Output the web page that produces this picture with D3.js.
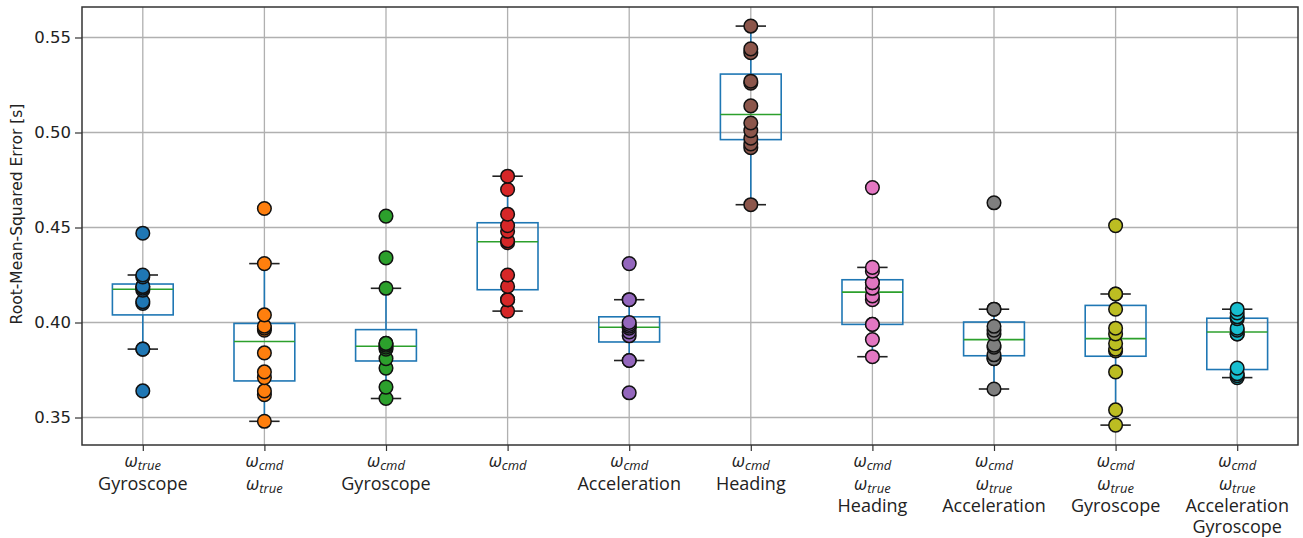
<!DOCTYPE html>
<html>
<head>
<meta charset="utf-8">
<script src="https://cdn.jsdelivr.net/npm/d3@7"></script>
<style>
  html, body { margin: 0; padding: 0; background: #fff; }
  svg { display: block; }
</style>
</head>
<body>
<svg id="chart" width="1303" height="538"></svg>
<script>
// ---- data ----
const categories = [1, 2, 3, 4, 5, 6, 7, 8, 9, 10];
const tickLabels = [
  ["ω_true", "Gyroscope"],
  ["ω_cmd", "ω_true"],
  ["ω_cmd", "Gyroscope"],
  ["ω_cmd"],
  ["ω_cmd", "Acceleration"],
  ["ω_cmd", "Heading"],
  ["ω_cmd", "ω_true", "Heading"],
  ["ω_cmd", "ω_true", "Acceleration"],
  ["ω_cmd", "ω_true", "Gyroscope"],
  ["ω_cmd", "ω_true", "Acceleration", "Gyroscope"]
];
const series1 = [0.364, 0.386, 0.386, 0.410, 0.411, 0.417, 0.418, 0.419, 0.419, 0.424, 0.425, 0.447];
const series2 = [0.348, 0.362, 0.364, 0.371, 0.374, 0.384, 0.396, 0.397, 0.398, 0.404, 0.431, 0.460];
const series3 = [0.360, 0.366, 0.376, 0.381, 0.386, 0.387, 0.388, 0.389, 0.389, 0.418, 0.434, 0.456];
const series4 = [0.406, 0.412, 0.412, 0.419, 0.425, 0.442, 0.443, 0.448, 0.451, 0.457, 0.470, 0.477];
const series5 = [0.363, 0.380, 0.380, 0.393, 0.395, 0.397, 0.398, 0.399, 0.400, 0.412, 0.412, 0.431];
const series6 = [0.462, 0.492, 0.494, 0.497, 0.501, 0.505, 0.514, 0.526, 0.527, 0.542, 0.544, 0.556];
const series7 = [0.382, 0.391, 0.399, 0.399, 0.412, 0.414, 0.418, 0.421, 0.421, 0.427, 0.429, 0.471];
const series8 = [0.365, 0.381, 0.381, 0.383, 0.387, 0.388, 0.394, 0.396, 0.398, 0.407, 0.407, 0.463];
const series9 = [0.346, 0.354, 0.374, 0.385, 0.386, 0.389, 0.394, 0.397, 0.407, 0.415, 0.415, 0.451];
const series10 = [0.371, 0.372, 0.373, 0.376, 0.394, 0.394, 0.396, 0.397, 0.402, 0.403, 0.405, 0.407];
const allSeries = [series1, series2, series3, series4, series5, series6, series7, series8, series9, series10];
const yTicks = [0.35, 0.40, 0.45, 0.50, 0.55];
const yLabel = "Root-Mean-Squared Error [s]";
const colors = d3.schemeCategory10;

// ---- layout ----
const svg = d3.select("#chart");
const L = 82, R = 1298, T = 7, B = 445;
const x = d3.scaleLinear().domain([0.5, 10.5]).range([L, R]);
const y = d3.scaleLinear().domain([0.33553, 0.56605]).range([B, T]);

// grid
const grid = svg.append("g");
grid.selectAll("line.h").data(yTicks).join("line")
  .attr("x1", L).attr("x2", R)
  .attr("y1", d => y(d)).attr("y2", d => y(d))
  .attr("stroke", "#b0b0b0").attr("stroke-width", 1.3);
grid.selectAll("line.v").data(categories).join("line")
  .attr("y1", T).attr("y2", B)
  .attr("x1", d => x(d)).attr("x2", d => x(d))
  .attr("stroke", "#b0b0b0").attr("stroke-width", 1.3);

// boxplots
function stats(arr) {
  const s = arr.slice().sort(d3.ascending);
  const q1 = d3.quantile(s, 0.25), med = d3.quantile(s, 0.5), q3 = d3.quantile(s, 0.75);
  const iqr = q3 - q1;
  const lo = d3.min(s.filter(v => v >= q1 - 1.5 * iqr));
  const hi = d3.max(s.filter(v => v <= q3 + 1.5 * iqr));
  return { q1, med, q3, lo, hi };
}
const boxW = 0.5, capW = 0.25;
const boxes = svg.append("g");
allSeries.forEach((vals, i) => {
  const c = categories[i];
  const st = stats(vals);
  const g = boxes.append("g");
  g.append("line").attr("x1", x(c)).attr("x2", x(c)).attr("y1", y(st.q1)).attr("y2", y(st.lo))
    .attr("stroke", "#1f77b4").attr("stroke-width", 1.6);
  g.append("line").attr("x1", x(c)).attr("x2", x(c)).attr("y1", y(st.q3)).attr("y2", y(st.hi))
    .attr("stroke", "#1f77b4").attr("stroke-width", 1.6);
  [st.lo, st.hi].forEach(v => {
    g.append("line").attr("x1", x(c - capW / 2)).attr("x2", x(c + capW / 2))
      .attr("y1", y(v)).attr("y2", y(v)).attr("stroke", "#222").attr("stroke-width", 1.6);
  });
  g.append("rect").attr("x", x(c - boxW / 2)).attr("width", x(c + boxW / 2) - x(c - boxW / 2))
    .attr("y", y(st.q3)).attr("height", y(st.q1) - y(st.q3))
    .attr("fill", "none").attr("stroke", "#1f77b4").attr("stroke-width", 1.6);
  g.append("line").attr("x1", x(c - boxW / 2)).attr("x2", x(c + boxW / 2))
    .attr("y1", y(st.med)).attr("y2", y(st.med)).attr("stroke", "#2ca02c").attr("stroke-width", 1.6);
});

// points
const pts = svg.append("g");
allSeries.forEach((vals, i) => {
  pts.selectAll(null).data(vals).join("circle")
    .attr("cx", x(categories[i])).attr("cy", d => y(d)).attr("r", 6.8)
    .attr("fill", colors[i]).attr("stroke", "#111").attr("stroke-width", 1.5);
});

// frame
svg.append("rect").attr("x", L).attr("y", T).attr("width", R - L).attr("height", B - T)
  .attr("fill", "none").attr("stroke", "#333").attr("stroke-width", 1.5);

// y axis
const yAxis = svg.append("g").attr("transform", `translate(${L},0)`)
  .call(d3.axisLeft(y).tickValues(yTicks).tickFormat(d3.format(".2f")).tickSize(7).tickPadding(4));
yAxis.select(".domain").remove();
yAxis.selectAll(".tick line").attr("stroke", "#333").attr("stroke-width", 1.2);
yAxis.selectAll(".tick text").attr("font-family", "DejaVu Sans").attr("font-size", "16.5px").attr("fill", "#222");

// x axis ticks
const xAxis = svg.append("g").attr("transform", `translate(0,${B})`)
  .call(d3.axisBottom(x).tickValues(categories).tickFormat("").tickSize(6));
xAxis.select(".domain").remove();
xAxis.selectAll(".tick line").attr("stroke", "#333").attr("stroke-width", 1.2);

// x tick labels
const baselines = [467, 489.5, 511.5, 532.5];
const lab = svg.append("g").attr("font-family", "Open Sans").attr("fill", "#222");
tickLabels.forEach((lines, i) => {
  lines.forEach((ln, j) => {
    const t = lab.append("text").attr("x", x(categories[i])).attr("y", baselines[j])
      .attr("text-anchor", "middle");
    if (ln.startsWith("ω_")) {
      t.append("tspan").attr("font-style", "italic").attr("font-size", "18px").text("ω");
      t.append("tspan").attr("font-style", "italic").attr("font-size", "13px").attr("dy", 3).text(ln.slice(2));
    } else {
      t.attr("font-size", "18px").text(ln);
    }
  });
});

// y label
svg.append("text").attr("transform", `translate(22,214) rotate(-90)`)
  .attr("text-anchor", "middle").attr("font-family", "DejaVu Sans").attr("font-size", "15.5px")
  .attr("fill", "#222").text(yLabel);
</script>
</body>
</html>
